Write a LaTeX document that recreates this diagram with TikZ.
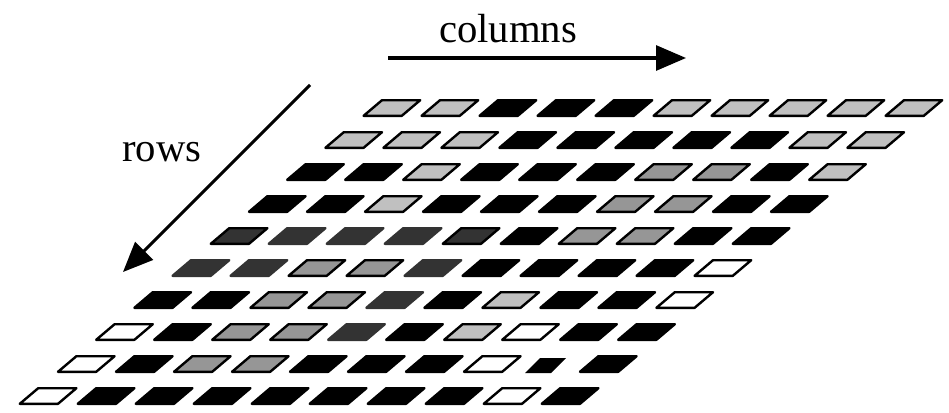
\documentclass[tikz,border=0pt]{standalone}
\usepackage{fontspec}
\setmainfont{Liberation Serif}
\usetikzlibrary{arrows.meta}
\definecolor{cLight}{HTML}{C0C0C0}
\definecolor{cMid}{HTML}{969696}
\definecolor{cDark}{HTML}{333333}
\begin{document}
\begin{tikzpicture}[x=1pt,y=-1pt,
  cellbase/.style={line width=2.4pt,line join=round},
  cellB/.style={cellbase,fill=black,draw=black},
  cellL/.style={cellbase,fill=cLight,draw=black},
  cellG/.style={cellbase,fill=cMid,draw=black},
  cellD/.style={cellbase,fill=cDark,draw=cDark},
  cellO/.style={cellbase,fill=cDark,draw=black},
  cellW/.style={cellbase,fill=white,draw=black},
  cellS/.style={fill=black},
  lbl/.style={anchor=base west,inner sep=0pt,font=\fontsize{40.7}{48}\selectfont},
  arr/.style={line width=3pt,-{Triangle[length=30pt,width=25pt]}}]
\useasboundingbox (0,0) rectangle (949,412);
\newcommand\cellat[3]{%
  \pgfmathsetmacro\cx{362-(#2-1)*38.2+(#1-1)*58}%
  \pgfmathsetmacro\cy{117+(#2-1)*32}%
  \path[#3] (\cx+1.6,\cy-1.2) -- ++(38.2,0) -- ++(18.4,-15.6) -- ++(-38.2,0) -- cycle;}
\foreach \r/\lst in {
  1/{L,L,B,B,B,L,L,L,L,L},
  2/{L,L,L,B,B,B,B,B,L,L},
  3/{B,B,L,B,B,B,G,G,B,L},
  4/{B,B,L,B,B,B,G,G,B,B},
  5/{O,D,D,D,O,B,G,G,B,B},
  6/{D,D,G,G,D,B,B,B,B,W},
  7/{B,B,G,G,D,B,L,B,B,W},
  8/{W,B,G,G,D,B,L,W,B,B},
  9/{W,B,G,G,B,B,B,W,S,B},
  10/{W,B,B,B,B,B,B,B,W,B}}{
  \foreach \c [count=\k] in \lst {
    \if S\c
      \path[cellS] (525,373) -- (551,373) -- (566,358) -- (540,358) -- cycle;
    \else
      \edef\tmp{\noexpand\cellat{\k}{\r}{cell\c}}\tmp
    \fi
  }
}
\node[lbl] (colt) at (439,42) {columns};
\node[lbl] (rowt) at (122,161) {rows};
\coordinate (ca) at (388,58);
\coordinate (cb) at (686,58);
\coordinate (ra) at (310,85);
\coordinate (rb) at (123,272);
\draw[arr] (ca) -- (cb);
\draw[arr] (ra) -- (rb);
\end{tikzpicture}
\end{document}
